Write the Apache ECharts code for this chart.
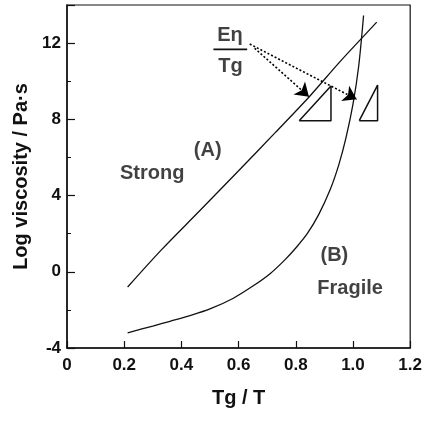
<!DOCTYPE html>
<html>
<head>
<meta charset="utf-8">
<script src="https://cdn.jsdelivr.net/npm/echarts@6/dist/echarts.min.js"></script>
<style>
  html, body { margin: 0; padding: 0; background: #fff; }
  #chart { width: 425px; height: 425px; }
</style>
</head>
<body>
<div id="chart"></div>
<script>
// curve (A) strong liquid
const strongCurve = [
  [0.212, -0.8], [0.33, 1.15], [0.464, 3.2], [0.6, 5.3], [0.728, 7.3],
  [0.848, 9.2], [0.95, 10.95], [1.03, 12.25], [1.083, 13.1]
]
// curve (B) fragile liquid
const fragileCurve = [
  [0.212, -3.2], [0.3, -2.85], [0.36, -2.6], [0.43, -2.3], [0.5, -1.95],
  [0.58, -1.4], [0.65, -0.75], [0.71, -0.1], [0.76, 0.6], [0.8, 1.25],
  [0.84, 2.0], [0.88, 3.0], [0.92, 4.3], [0.95, 5.6], [0.975, 7.0],
  [1.0, 8.8], [1.02, 10.8], [1.037, 13.45]
]
// slope triangles
const triangleA = [[0.812, 7.93], [0.923, 7.93], [0.923, 9.75], [0.812, 7.93]]
const triangleB = [[1.022, 7.93], [1.086, 7.93], [1.086, 9.8], [1.022, 7.93]]
// fraction bar of En / Tg
const fractionBar = [[0.512, 11.67], [0.63, 11.67]]
// dotted arrows from the fraction to the slopes
const arrows = [
  [[0.639, 11.95], [1.013, 9.05]],
  [[0.656, 11.73], [0.846, 9.19]]
]
// text notes [x, y, text]
const notes = [
  [0.492, 6.39, '(A)'],
  [0.298, 5.18, 'Strong'],
  [0.935, 0.85, '(B)'],
  [0.99, -0.9, 'Fragile'],
  [0.57, 12.42, 'Eη'],
  [0.572, 10.76, 'Tg']
]
const xTicks = { min: 0, max: 1.2, step: 0.2 }
const yTicks = { min: -4, max: 14, step: 4 }

const font = 'Liberation Sans, Arial, sans-serif'
const ink = '#111'

const chart = echarts.init(document.getElementById('chart'))

const lineSeries = (data, width, smooth) => ({
  type: 'line',
  data: data,
  showSymbol: false,
  symbol: 'none',
  smooth: smooth || false,
  lineStyle: { color: ink, width: width },
  silent: true,
  z: 3
})

chart.setOption({
  backgroundColor: '#fff',
  animation: false,
  grid: {
    left: 67, right: 11, top: 5, bottom: 77,
    show: true, borderColor: ink, borderWidth: 1.2
  },
  xAxis: {
    type: 'value',
    min: xTicks.min, max: xTicks.max, interval: xTicks.step,
    name: 'Tg / T',
    nameLocation: 'middle',
    nameGap: 40,
    nameTextStyle: { fontFamily: font, fontSize: 20, fontWeight: 'bold', color: ink },
    axisLine: { onZero: false, lineStyle: { color: ink, width: 1.5 } },
    axisTick: { inside: true, length: 7, lineStyle: { color: ink, width: 1.2 } },
    splitLine: { show: false },
    axisLabel: {
      fontFamily: font, fontSize: 17, fontWeight: 'bold', color: ink, margin: 9,
      formatter: v => (v === 0 ? '0' : v.toFixed(1))
    }
  },
  yAxis: {
    type: 'value',
    min: yTicks.min, max: yTicks.max, interval: yTicks.step,
    name: 'Log viscosity / Pa·s',
    nameLocation: 'middle',
    nameGap: 36,
    nameTextStyle: { fontFamily: font, fontSize: 20, fontWeight: 'bold', color: ink },
    axisLine: { show: true, onZero: false, lineStyle: { color: ink, width: 1.5 } },
    axisTick: { inside: true, length: 8, lineStyle: { color: ink, width: 1.2 } },
    minorTick: { show: true, splitNumber: 2, length: 4, lineStyle: { color: ink, width: 1 } },
    splitLine: { show: false },
    axisLabel: {
      fontFamily: font, fontSize: 17, fontWeight: 'bold', color: ink, margin: 6,
      showMaxLabel: false
    }
  },
  series: [
    lineSeries(strongCurve, 1.3, 0.3),
    lineSeries(fragileCurve, 1.3, 0.3),
    lineSeries(triangleA, 1.5),
    lineSeries(triangleB, 1.5),
    lineSeries(fractionBar, 1.6),
    {
      type: 'lines',
      coordinateSystem: 'cartesian2d',
      data: arrows.map(a => ({ coords: a })),
      symbol: ['none', 'arrow'],
      symbolSize: 13,
      lineStyle: { color: '#000', width: 1.6, type: [2, 2], opacity: 1 },
      silent: true,
      z: 4
    },
    {
      type: 'scatter',
      data: notes.map(n => ({ value: [n[0], n[1]], name: n[2] })),
      symbolSize: 0,
      silent: true,
      label: {
        show: true,
        position: 'inside',
        formatter: p => p.name,
        fontFamily: font,
        fontSize: 20,
        fontWeight: 'bold',
        color: ink
      }
    }
  ]
})
</script>
</body>
</html>
